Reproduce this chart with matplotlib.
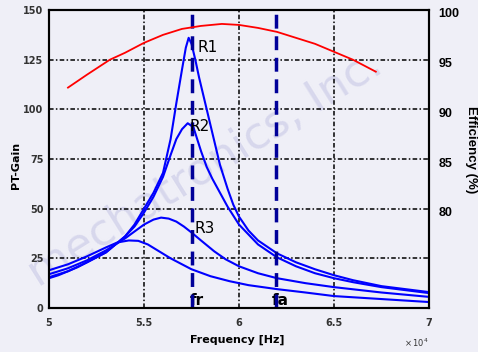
import numpy as np
import matplotlib
matplotlib.use("Agg")
import matplotlib.pyplot as plt

# frecuencias en Hz, ganancia PT por curva
f_r1 = [50000, 50500, 51000, 51500, 52000, 52500, 53000, 53500, 54000, 54500, 55000, 55500,
        56000, 56400, 56700, 57000, 57200, 57350, 57500, 57700, 57900, 58100, 58400, 58700,
        59000, 59400, 59700, 60000, 60500, 61000, 62000, 63000, 64000, 65000, 66000, 67500, 70000]
g_r1 = [15, 16.5, 18.5, 20.5, 23, 25.5, 28, 32, 36, 42, 50, 58,
        68, 85, 103, 120, 131, 136, 133, 125, 116, 108, 96, 84,
        72, 60, 52, 46, 39, 34, 27.5, 23, 19.5, 16.5, 14, 11, 8]

f_r2 = [50000, 51000, 52000, 53000, 54000, 54500, 55000, 55500, 56000, 56400, 56700, 57000,
        57300, 57600, 57800, 58000, 58300, 58600, 59000, 59400, 60000, 60500, 61000, 62000,
        63000, 64000, 65000, 66000, 67500, 70000]
g_r2 = [15.5, 18.5, 23, 28, 36, 41, 48, 56, 66, 77, 85, 90,
        93, 91, 85, 79, 71, 65, 58, 51, 42, 37, 32, 25.5,
        21, 17.5, 15, 13, 10.5, 7.5]

f_r3 = [50000, 51000, 52000, 53000, 54000, 54500, 55000, 55500, 55900, 56300, 56700, 57100,
        57500, 58000, 58700, 59300, 60000, 61000, 62000, 63500, 65000, 67500, 70000]
g_r3 = [17, 20, 24, 29, 35, 38.5, 42, 44.5, 45.5, 45, 43.5, 41,
        38, 34, 28.5, 24.5, 21, 17.5, 15, 12.5, 10.5, 7.8, 5.6]

f_r4 = [50000, 51000, 52000, 53000, 53600, 54200, 54700, 55200, 55800, 56400, 57000, 57500,
        58500, 59500, 60500, 62000, 63500, 65000, 67500, 70000]
g_r4 = [19, 22, 26, 30.5, 33, 34, 33.8, 32, 28.5, 25, 22, 19.5,
        16, 13.5, 11.5, 9.5, 7.8, 6, 4.5, 3]

# eficiencia (%)
f_ef = [51000, 52000, 53200, 54000, 55000, 56000, 57000, 58000, 59100, 60000, 61000,
        62000, 63000, 64000, 65000, 66000, 67200]
ef = [92.5, 93.8, 95.3, 96.0, 97.0, 97.8, 98.4, 98.7, 98.9, 98.8, 98.5,
      98.1, 97.5, 96.9, 96.1, 95.3, 94.1]

fr = 57530
fa = 61950

x_ticks = [50000, 55000, 60000, 65000, 70000]
x_labels = ["5", "5.5", "6", "6.5", "7"]
y_ticks = [0, 25, 50, 75, 100, 125, 150]
ef_ticks = [80, 85, 90, 95, 100]

fig = plt.figure(figsize=(4.78, 3.52), dpi=100, facecolor="#efeff7")
ax = fig.add_axes([0.1025, 0.125, 0.795, 0.8466])
ax.set_facecolor("none")

fig.text(0.43, 0.52, "mechatronics, Inc.", rotation=32, ha="center", va="center",
         fontsize=32, color="#c8c8e6", alpha=0.6, zorder=-1)

grid_ls = (0, (3, 1.5, 1, 1.5))
for y in [25, 50, 75, 100, 125]:
    ax.axhline(y, color="black", lw=1.1, ls=grid_ls, zorder=1)
for x in [55000, 60000, 65000]:
    ax.axvline(x, color="black", lw=1.1, ls=grid_ls, zorder=1)

for f, g in [(f_r1, g_r1), (f_r2, g_r2), (f_r3, g_r3), (f_r4, g_r4)]:
    ax.plot(f, g, color="#0000ff", lw=1.5, zorder=3)

ax.axvline(fr, color="#000099", lw=2.5, ls=(0, (4, 2.2)), zorder=4)
ax.axvline(fa, color="#000099", lw=2.5, ls=(0, (4, 2.2)), zorder=4)

ax.text(57800, 131, "R1", fontsize=11, va="center", zorder=5)
ax.text(57420, 91.5, "R2", fontsize=11, va="center", zorder=5)
ax.text(57680, 40, "R3", fontsize=11, va="center", zorder=5)
ax.text(57800, 4, "fr", fontsize=11, fontweight="bold", ha="center", va="center")
ax.text(62160, 4, "fa", fontsize=11, fontweight="bold", ha="center", va="center")

ax.set_xlim(50000, 70000)
ax.set_ylim(0, 150)
ax.set_xticks(x_ticks)
ax.set_xticklabels(x_labels, fontsize=7, fontweight="bold", color="#333333")
ax.set_yticks(y_ticks)
ax.set_yticklabels([str(v) for v in y_ticks], fontsize=7, fontweight="bold", color="#333333")
ax.tick_params(axis="y", length=0, pad=4)
ax.tick_params(axis="x", length=0, pad=7)
ax.set_xlabel("Frequency [Hz]", fontsize=8, fontweight="bold")
ax.xaxis.set_label_coords(0.495, -0.09)
ax.set_ylabel("PT-Gain", fontsize=8, fontweight="bold")
ax.yaxis.set_label_coords(-0.074, 0.48)
for s in ax.spines.values():
    s.set_linewidth(1.5)
fig.text(0.845, 0.015, r"$\times\,10^4$", fontsize=6, color="#333333")

ax2 = ax.twinx()
ax2.plot(f_ef, ef, color="red", lw=1.3, zorder=3)
ax2.set_ylim(70.35, 100.3)
ax2.set_yticks(ef_ticks)
ax2.set_yticklabels([str(v) for v in ef_ticks], fontsize=9, fontweight="bold",
                    family="Liberation Sans")
ax2.tick_params(length=0, pad=7)
ax2.set_ylabel("Efficiency (%)", fontsize=9.5, fontweight="bold", rotation=270,
               family="Liberation Sans")
ax2.yaxis.set_label_coords(1.127, 0.53)
for s in ax2.spines.values():
    s.set_linewidth(1.5)

fig.savefig("out.png", dpi=100, facecolor=fig.get_facecolor())
